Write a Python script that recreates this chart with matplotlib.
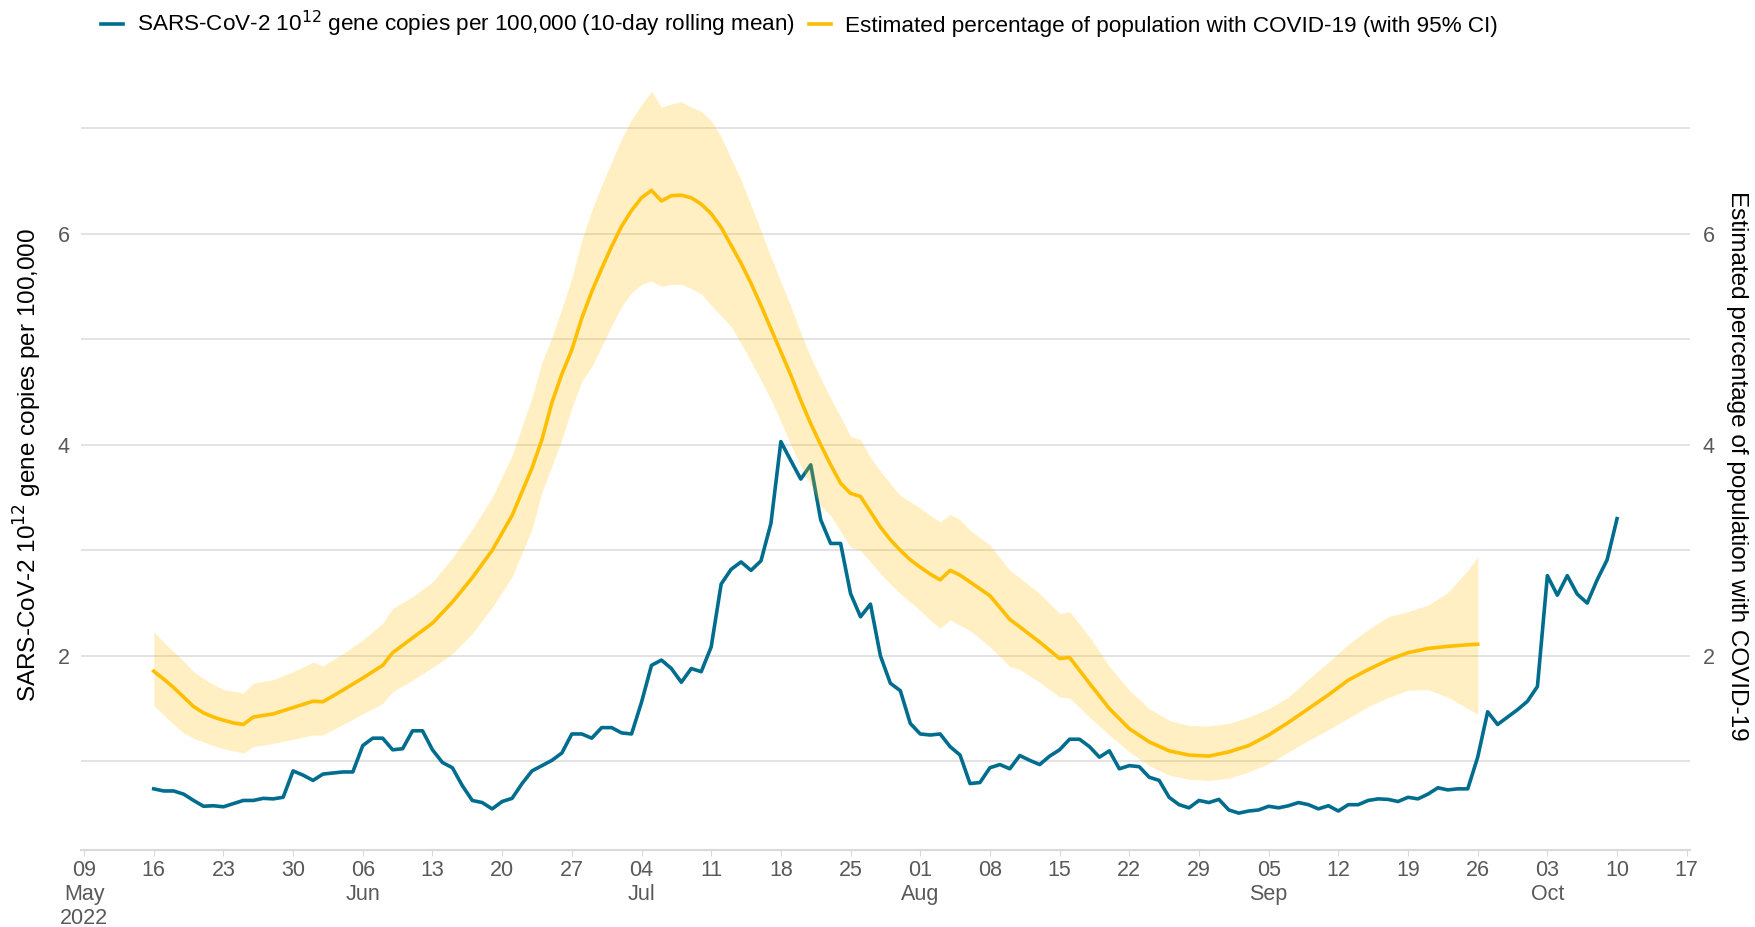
import matplotlib.pyplot as plt
import matplotlib.dates as mdates
import pandas as pd
import numpy as np

plt.rcParams['font.family'] = ['Liberation Sans', 'DejaVu Sans']

start = pd.Timestamp('2022-05-09')

# wastewater series, daily 16 May - 10 Oct
ww_dates = pd.date_range('2022-05-16', '2022-10-10', freq='D')
ww_vals = [0.74, 0.72, 0.72, 0.69, 0.63, 0.575, 0.58, 0.57, 0.60, 0.63,
           0.63, 0.65, 0.645, 0.66, 0.91, 0.87, 0.82, 0.88, 0.89, 0.90,
           0.90, 1.15, 1.22, 1.22, 1.11, 1.12, 1.29, 1.29, 1.11, 0.99,
           0.94, 0.77, 0.63, 0.61, 0.55, 0.62, 0.65, 0.79, 0.91, 0.96,
           1.01, 1.08, 1.26, 1.26, 1.22, 1.32, 1.32, 1.27, 1.26, 1.56,
           1.91, 1.96, 1.88, 1.75, 1.88, 1.85, 2.085, 2.68, 2.82, 2.89,
           2.81, 2.90, 3.255, 4.03, 3.85, 3.675, 3.81, 3.29, 3.065, 3.065,
           2.59, 2.37, 2.49, 2.0, 1.74, 1.67, 1.36, 1.26, 1.25, 1.26,
           1.14, 1.06, 0.79, 0.80, 0.94, 0.97, 0.93, 1.056, 1.01, 0.97,
           1.05, 1.11, 1.21, 1.21, 1.14, 1.04, 1.10, 0.93, 0.96, 0.95,
           0.85, 0.82, 0.66, 0.59, 0.56, 0.63, 0.61, 0.64, 0.54, 0.51,
           0.53, 0.54, 0.575, 0.56, 0.58, 0.61, 0.59, 0.55, 0.58, 0.53,
           0.59, 0.59, 0.63, 0.645, 0.64, 0.62, 0.66, 0.645, 0.69, 0.75,
           0.73, 0.74, 0.74, 1.04, 1.47, 1.35, 1.42, 1.49, 1.57, 1.71,
           2.76, 2.575, 2.76, 2.585, 2.50, 2.72, 2.91, 3.30]

# infection survey estimate, days after 9 May
est_day = [7, 8, 9, 10, 11, 12, 13, 14, 15, 16, 17, 19, 21, 23, 24, 26, 28, 30,
           31, 33, 35, 37, 39, 41, 43, 45, 46, 47, 48, 49, 50, 51, 52, 53, 54,
           55, 56, 57, 58, 59, 60, 61, 62, 63, 64, 65, 66, 67, 68, 69, 70, 71,
           72, 73, 74, 75, 76, 77, 78, 79, 80, 81, 82, 83, 84, 85, 86, 87, 88,
           89, 91, 93, 94, 96, 98, 99, 101, 103, 105, 107, 109, 111, 113, 115,
           117, 119, 121, 123, 125, 127, 129, 131, 133, 135, 137, 139, 140]
est_mid = [1.855, 1.78, 1.70, 1.61, 1.52, 1.46, 1.42, 1.39, 1.365, 1.35, 1.42,
           1.45, 1.51, 1.57, 1.565, 1.675, 1.79, 1.91, 2.03, 2.17, 2.31, 2.51,
           2.74, 3.0, 3.33, 3.78, 4.05, 4.40, 4.67, 4.90, 5.20, 5.45, 5.67,
           5.88, 6.07, 6.22, 6.34, 6.41, 6.31, 6.36, 6.365, 6.34, 6.28, 6.19,
           6.06, 5.89, 5.72, 5.53, 5.32, 5.10, 4.88, 4.66, 4.42, 4.20, 4.00,
           3.81, 3.635, 3.54, 3.51, 3.365, 3.22, 3.10, 3.0, 2.91, 2.84, 2.775,
           2.72, 2.81, 2.765, 2.70, 2.57, 2.345, 2.275, 2.13, 1.975, 1.985,
           1.74, 1.50, 1.31, 1.185, 1.10, 1.06, 1.05, 1.09, 1.15, 1.25, 1.37,
           1.50, 1.63, 1.77, 1.87, 1.96, 2.03, 2.07, 2.09, 2.105, 2.11]
est_lo = [1.53, 1.44, 1.35, 1.27, 1.22, 1.185, 1.15, 1.12, 1.10, 1.08, 1.14,
          1.17, 1.21, 1.25, 1.25, 1.35, 1.45, 1.55, 1.66, 1.77, 1.89, 2.02,
          2.21, 2.46, 2.75, 3.2, 3.55, 3.80, 4.05, 4.35, 4.60, 4.74, 4.93,
          5.13, 5.31, 5.44, 5.52, 5.55, 5.50, 5.52, 5.52, 5.48, 5.43, 5.32,
          5.22, 5.12, 4.96, 4.79, 4.61, 4.43, 4.22, 4.0, 3.80, 3.62, 3.42,
          3.33, 3.18, 3.03, 3.00, 2.89, 2.78, 2.68, 2.59, 2.51, 2.43, 2.34,
          2.26, 2.34, 2.29, 2.24, 2.085, 1.90, 1.87, 1.75, 1.61, 1.60, 1.42,
          1.25, 1.09, 0.96, 0.87, 0.83, 0.82, 0.84, 0.90, 0.98, 1.09, 1.20,
          1.30, 1.41, 1.52, 1.605, 1.675, 1.68, 1.61, 1.50, 1.45]
est_hi = [2.23, 2.13, 2.04, 1.95, 1.85, 1.785, 1.73, 1.68, 1.665, 1.65, 1.74,
          1.775, 1.85, 1.94, 1.905, 2.02, 2.15, 2.31, 2.45, 2.56, 2.70, 2.93,
          3.2, 3.5, 3.9, 4.45, 4.78, 5.02, 5.29, 5.58, 5.94, 6.22, 6.46, 6.68,
          6.90, 7.08, 7.22, 7.35, 7.20, 7.23, 7.25, 7.20, 7.16, 7.07, 6.92,
          6.71, 6.51, 6.27, 6.03, 5.78, 5.545, 5.31, 5.06, 4.83, 4.63, 4.44,
          4.265, 4.08, 4.05, 3.88, 3.75, 3.63, 3.52, 3.46, 3.40, 3.33, 3.27,
          3.34, 3.29, 3.19, 3.05, 2.81, 2.74, 2.59, 2.40, 2.42, 2.18, 1.90,
          1.675, 1.50, 1.39, 1.34, 1.335, 1.36, 1.42, 1.50, 1.61, 1.78, 1.94,
          2.11, 2.25, 2.37, 2.42, 2.48, 2.60, 2.81, 2.94]

est_dates = start + pd.to_timedelta(est_day, unit='D')

blue = '#006d8f'
gold = '#ffbf00'
grey = '#595959'

fig = plt.figure(figsize=(17.55, 9.27), dpi=100)
ax = fig.add_axes([0.046, 0.083, 0.917, 0.830])

ax.plot(ww_dates, ww_vals, color=blue, lw=2.6, zorder=3,
        label='SARS-CoV-2 10$^{12}$ gene copies per 100,000 (10-day rolling mean)')
ax.fill_between(est_dates, est_lo, est_hi, color=gold, alpha=0.24, lw=0, zorder=4)
ax.plot(est_dates, est_mid, color=gold, lw=2.6, zorder=5,
        label='Estimated percentage of population with COVID-19 (with 95% CI)')

ax.set_ylim(0.16, 7.45)
ax.set_xlim(start - pd.Timedelta(hours=8), pd.Timestamp('2022-10-17') + pd.Timedelta(hours=8))

# weekly ticks with month / year under the first of each
ticks = pd.date_range(start, '2022-10-17', freq='7D')
labels = []
prev = None
for i, t in enumerate(ticks):
    s = t.strftime('%d')
    if t.month != prev:
        s += '\n' + t.strftime('%b')
        if i == 0:
            s += '\n' + t.strftime('%Y')
    prev = t.month
    labels.append(s)
ax.set_xticks(ticks)
ax.set_xticklabels(labels, fontsize=15.5, color=grey, linespacing=1.2)
ax.tick_params(axis='x', length=4, color='#d9d9d9', pad=3)

ax.set_yticks([2, 4, 6])
ax.set_yticks([1, 3, 5, 7], minor=True)
ax.tick_params(axis='y', which='both', length=0, labelsize=15.5, labelcolor=grey, pad=8)
ax.grid(axis='y', which='both', color='#dedede', lw=1.2)
ax.set_axisbelow(True)
for s in ['top', 'right', 'left']:
    ax.spines[s].set_visible(False)
ax.spines['bottom'].set_color('#d9d9d9')
ax.spines['bottom'].set_linewidth(1.5)

ax.set_ylabel('SARS-CoV-2 10$^{12}$ gene copies per 100,000', fontsize=17.5, labelpad=10)

ax2 = ax.twinx()
ax2.set_ylim(ax.get_ylim())
ax2.set_yticks([2, 4, 6])
ax2.tick_params(axis='y', length=0, labelsize=15.5, labelcolor=grey, pad=9)
for s in ax2.spines.values():
    s.set_visible(False)
ax2.set_ylabel('Estimated percentage of population with COVID-19', fontsize=17.5,
               rotation=270, labelpad=24)

fig.legend(loc='upper left', bbox_to_anchor=(0.046, 1.012), ncol=2, frameon=False,
           fontsize=16.2, handlelength=1.0, handletextpad=0.6, columnspacing=0.6)

fig.savefig('out.png', dpi=100)
